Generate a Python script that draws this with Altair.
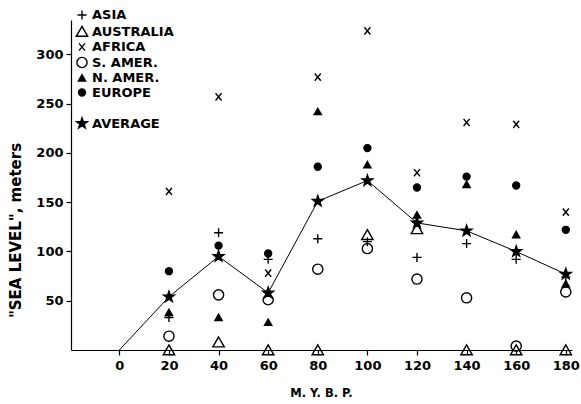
import altair as alt
import pandas as pd

# ---- data ----
mybp = [20, 40, 60, 80, 100, 120, 140, 160, 180]
asia = [33, 119, 92, 113, 110, 94, 108, 92, 74]
australia = [0, 8, 0, 0, 117, 123, 0, 0, 0]
africa = [161, 257, 78, 277, 324, 180, 231, 229, 140]
s_amer = [14, 56, 51, 82, 103, 72, 53, 4, 59]
n_amer = [38, 33, 28, 242, 188, 137, 168, 117, 67]
europe = [80, 106, 98, 186, 205, 165, 176, 167, 122]
average = [54, 95, 58, 151, 172, 129, 121, 100, 77]
avg_line_x = [0] + mybp
avg_line_y = [0] + average

series_names = ["ASIA", "AUSTRALIA", "AFRICA", "S. AMER.", "N. AMER.", "EUROPE", " ", "AVERAGE"]
series_values = [asia, australia, africa, s_amer, n_amer, europe, None, average]

rows = []
for name, vals in zip(series_names, series_values):
    if vals is None:
        continue
    for x, v in zip(mybp, vals):
        rows.append({"mybp": x, "level": v, "series": name})
pts = pd.DataFrame(rows)
line_df = pd.DataFrame({"mybp": avg_line_x, "level": avg_line_y})

star = ("M0,-0.95L0.22,-0.31L0.9,-0.29L0.36,0.12L0.56,0.77L0,0.38"
        "L-0.56,0.77L-0.36,0.12L-0.9,-0.29L-0.22,-0.31Z")
shapes = [
    "M-0.75,0L0.75,0M0,-0.75L0,0.75",                       # plus
    "M0,-0.85L0.95,0.8L-0.95,0.8Z",                          # hollow triangle
    "M-0.5,-0.6L0.5,0.6M-0.5,0.6L0.5,-0.6",                 # x
    "M0.85,0A0.85,0.85 0 1,1 -0.85,0A0.85,0.85 0 1,1 0.85,0Z",  # hollow circle
    "M0,-0.55L0.6,0.5L-0.6,0.5Z",                            # filled triangle
    "M0.58,0A0.58,0.58 0 1,1 -0.58,0A0.58,0.58 0 1,1 0.58,0Z",  # filled circle
    "M0,0",                                                  # blank gap
    star,
]
fills = ["black", "transparent", "black", "transparent", "black", "black", "transparent", "black"]
strokes = ["black"] * len(series_names)

FONT = "DejaVu Sans"

x_enc = alt.X("mybp:Q", scale=alt.Scale(domain=[-19.5, 182.5], nice=False, zero=False),
              axis=alt.Axis(values=[0, 20, 40, 60, 80, 100, 120, 140, 160, 180], title="M. Y. B. P.",
                            grid=False, tickSize=5, labelPadding=4, titleFontSize=11.5,
                            titleY=43, titleBaseline="middle", titleX=250))
y_enc = alt.Y("level:Q", scale=alt.Scale(domain=[0, 335], nice=False),
              axis=alt.Axis(values=[50, 100, 150, 200, 250, 300], title='"SEA LEVEL", meters',
                            grid=False, tickSize=5, labelPadding=3, titleFontSize=15,
                            titleX=-56, titleY=210, titleBaseline="middle", titleAlign="center"))

line = alt.Chart(line_df).mark_line(color="black", strokeWidth=1).encode(x=x_enc, y=y_enc)

legend = alt.Legend(orient="none", legendX=4, legendY=-12, title=None,
                    labelFontSize=13, labelFont=FONT, labelFontWeight="bold",
                    labelColor="black", symbolSize=144, symbolStrokeWidth=1.4,
                    rowPadding=0.5, labelOffset=3, padding=0, labelLimit=300)

points = alt.Chart(pts).mark_point(filled=True, strokeWidth=1.4, size=144, opacity=1).encode(
    x=alt.X("mybp:Q"),
    y=alt.Y("level:Q"),
    shape=alt.Shape("series:N", scale=alt.Scale(domain=series_names, range=shapes), legend=legend),
    fill=alt.Fill("series:N", scale=alt.Scale(domain=series_names, range=fills), legend=legend),
    stroke=alt.Stroke("series:N", scale=alt.Scale(domain=series_names, range=strokes), legend=legend),
)

chart = alt.layer(line, points).properties(
    width=501, height=330,
    autosize=alt.AutoSizeParams(type="none"),
    padding={"left": 71, "top": 20, "right": 9, "bottom": 54},
    background="white",
).configure_view(stroke=None).configure_axis(
    labelFont=FONT, titleFont=FONT, labelFontWeight="bold", titleFontWeight="bold",
    labelFontSize=13, labelColor="black", titleColor="black",
    domainColor="black", tickColor="black", domainWidth=1.2, tickWidth=1.2,
)

chart.save("out.html", embed_options={"renderer": "svg", "actions": False})
